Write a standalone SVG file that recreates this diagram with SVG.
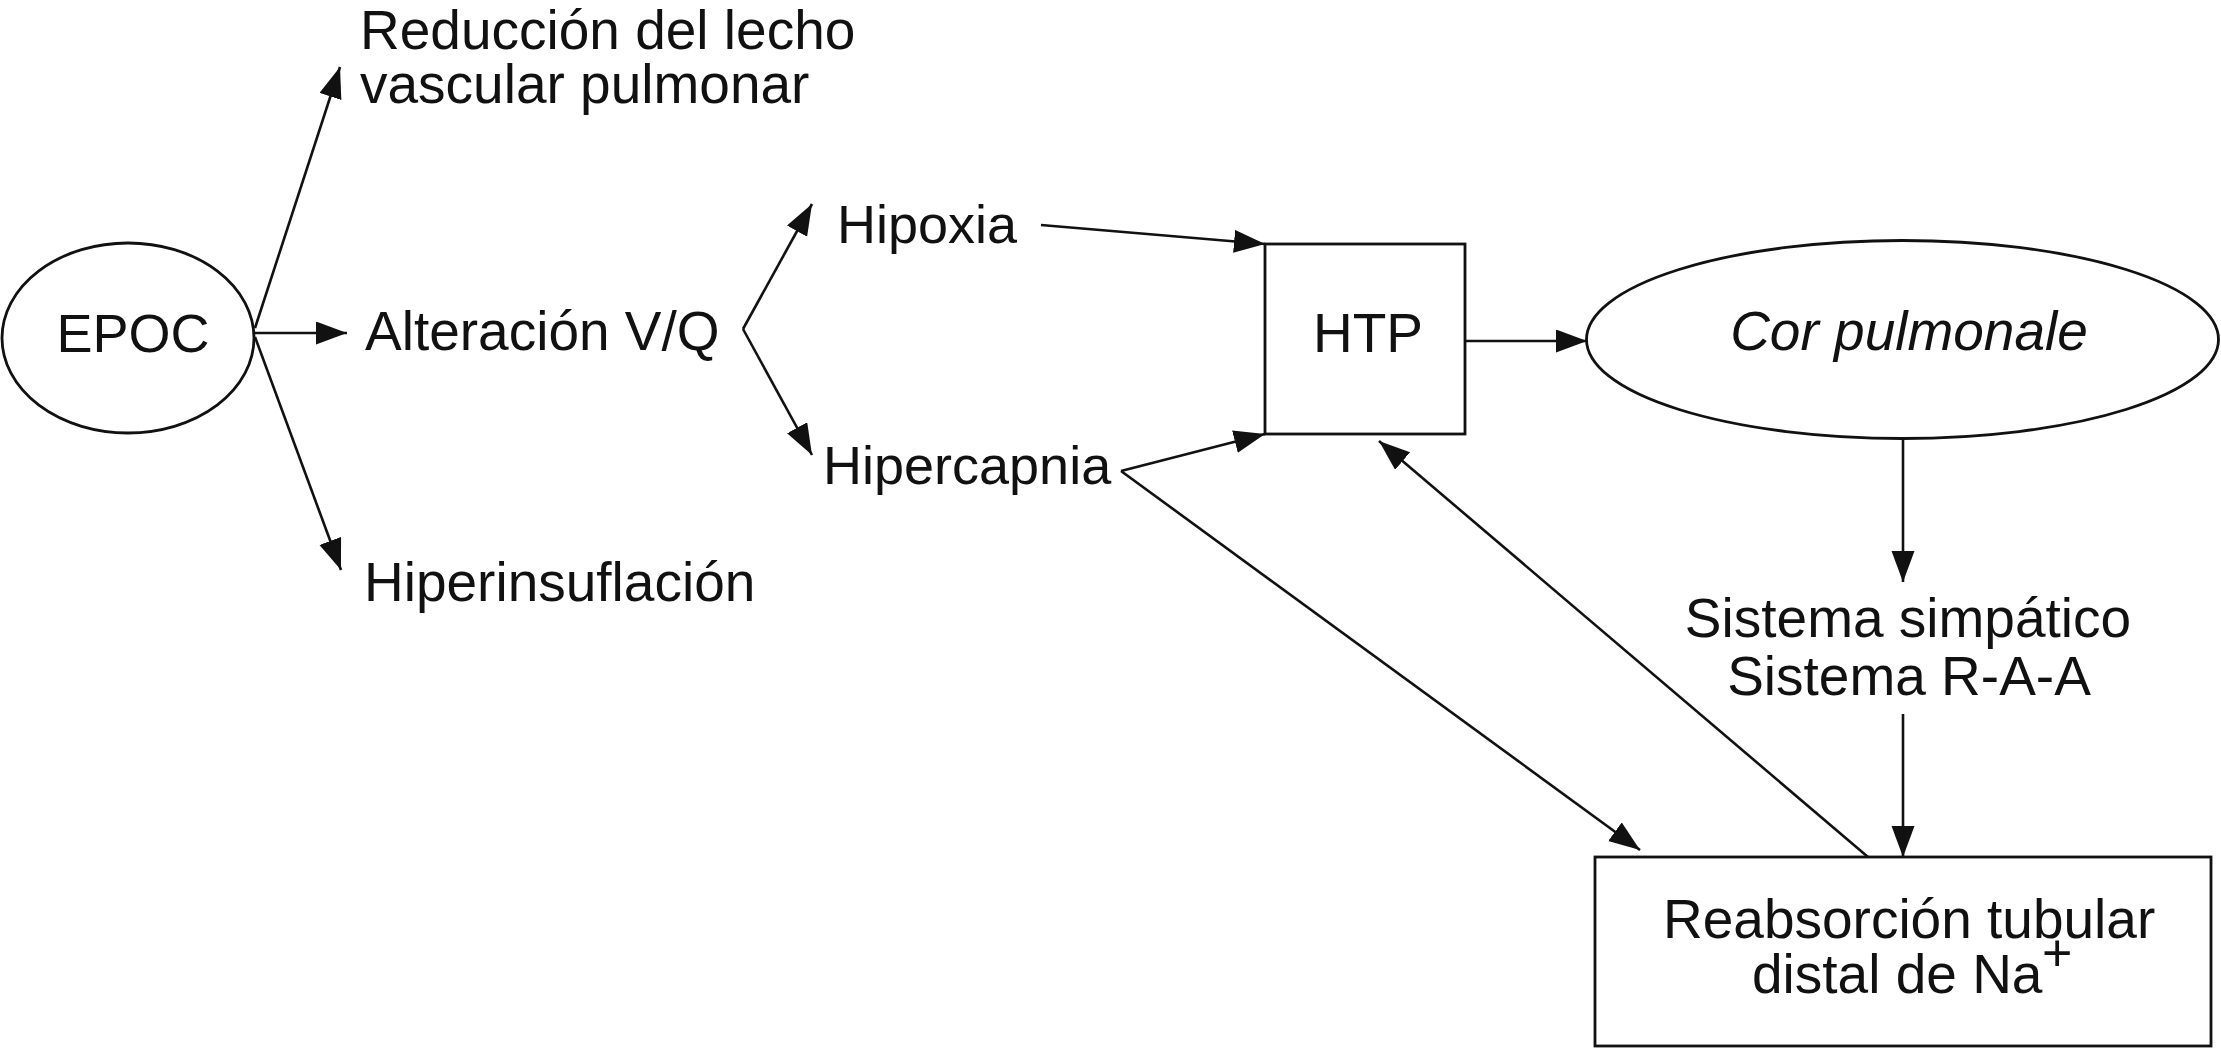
<svg xmlns="http://www.w3.org/2000/svg" width="2221" height="1049" viewBox="0 0 2221 1049">
<defs>
<style>
.shape{fill:none;stroke:#111;stroke-width:2.8}
.conn{fill:none;stroke:#111;stroke-width:2.6}
.t{font-family:"Liberation Sans",Arial,sans-serif;font-size:55px;fill:#111}
.c{text-anchor:middle}
.i{font-style:italic}
</style>
<marker id="arr" markerUnits="userSpaceOnUse" markerWidth="32" markerHeight="24" refX="31" refY="11.5" orient="auto">
<path d="M0,0 L31,11.5 L0,23 z" fill="#111"/>
</marker>
</defs>
<rect width="2221" height="1049" fill="#fff"/>
<g id="connectors" class="conn">
<line x1="255" y1="328" x2="340" y2="67" marker-end="url(#arr)"/>
<line x1="255" y1="333" x2="347" y2="333" marker-end="url(#arr)"/>
<line x1="255" y1="337" x2="341" y2="570" marker-end="url(#arr)"/>
<line x1="743" y1="329" x2="812" y2="204" marker-end="url(#arr)"/>
<line x1="743" y1="329" x2="812" y2="455" marker-end="url(#arr)"/>
<line x1="1041" y1="225" x2="1265" y2="244" marker-end="url(#arr)"/>
<line x1="1121" y1="471" x2="1265" y2="434" marker-end="url(#arr)"/>
<line x1="1121" y1="471" x2="1640" y2="850" marker-end="url(#arr)"/>
<line x1="1868" y1="857" x2="1379" y2="441" marker-end="url(#arr)"/>
<line x1="1465" y1="341" x2="1587" y2="341" marker-end="url(#arr)"/>
<line x1="1903" y1="438" x2="1903" y2="582" marker-end="url(#arr)"/>
<line x1="1903" y1="714" x2="1903" y2="857" marker-end="url(#arr)"/>
</g>
<g id="epoc">
<ellipse class="shape" cx="128" cy="338" rx="126" ry="95"/>
<text class="t c" x="133" y="352" style="font-size:54px">EPOC</text>
</g>
<g id="reduccion">
<text class="t" x="360" y="49">Reducción del lecho</text>
<text class="t" x="360" y="103">vascular pulmonar</text>
</g>
<g id="alteracion">
<text class="t" x="365" y="350">Alteración V/Q</text>
</g>
<g id="hiperinsuflacion">
<text class="t" x="364" y="601">Hiperinsuflación</text>
</g>
<g id="hipoxia">
<text class="t" x="837" y="243" style="font-size:54px">Hipoxia</text>
</g>
<g id="hipercapnia">
<text class="t" x="823" y="484" style="font-size:54px">Hipercapnia</text>
</g>
<g id="htp">
<rect class="shape" x="1265" y="244" width="200" height="190"/>
<text class="t c" x="1368" y="352">HTP</text>
</g>
<g id="cor">
<ellipse class="shape" cx="1902.5" cy="339.5" rx="316" ry="99"/>
<text class="t c i" x="1909" y="350">Cor pulmonale</text>
</g>
<g id="sistema">
<text class="t c" x="1908" y="637">Sistema simpático</text>
<text class="t c" x="1909" y="695">Sistema R-A-A</text>
</g>
<g id="reabsorcion">
<rect class="shape" x="1595" y="857" width="616" height="189"/>
<text class="t" x="1663" y="938">Reabsorción tubular</text>
<text class="t" x="1752" y="993">distal de Na</text>
<text class="t" x="2042" y="971" style="font-size:52px">+</text>
</g>
</svg>
